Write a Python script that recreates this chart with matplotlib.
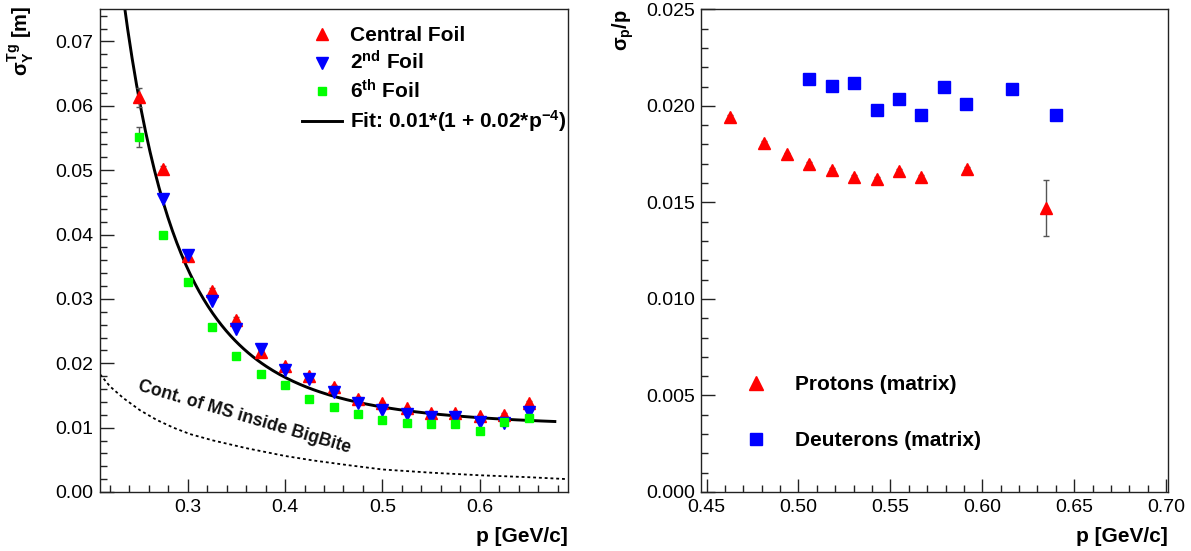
import numpy as np
import matplotlib
matplotlib.use("Agg")
import matplotlib.pyplot as plt
from matplotlib.lines import Line2D
from matplotlib.ticker import MultipleLocator, FormatStrFormatter

plt.rcParams['font.family'] = ['Liberation Sans', 'DejaVu Sans']
plt.rcParams['mathtext.fontset'] = 'custom'
plt.rcParams['mathtext.rm'] = 'Liberation Sans:bold'
plt.rcParams['mathtext.it'] = 'Liberation Sans:bold'
plt.rcParams['mathtext.bf'] = 'Liberation Sans:bold'

# ---------------- data: left panel ----------------
p_foil = [0.25, 0.275, 0.30, 0.325, 0.35, 0.375, 0.40, 0.425, 0.45, 0.475,
          0.50, 0.525, 0.55, 0.575, 0.60, 0.625, 0.65]
central = [0.0613, 0.0502, 0.0367, 0.0313, 0.0268, 0.0218, 0.0196, 0.0180, 0.0163,
           0.0145, 0.0138, 0.0130, 0.0122, 0.0122, 0.0118, 0.0120, 0.0139]
central_err = [0.0015, 0.0005, 0.0008, 0.0004, 0.0004, 0.0003, 0.0003, 0.0003, 0.0003,
               0.0002, 0.0002, 0.0002, 0.0002, 0.0002, 0.0002, 0.0002, 0.0002]
p_foil2 = [0.275, 0.30, 0.325, 0.35, 0.375, 0.40, 0.425, 0.45, 0.475,
           0.50, 0.525, 0.55, 0.575, 0.60, 0.625, 0.65]
foil2 = [0.0455, 0.0368, 0.0296, 0.0253, 0.0222, 0.0189, 0.0175, 0.0156, 0.0138,
         0.0127, 0.0121, 0.0117, 0.0116, 0.0109, 0.0107, 0.0124]
foil6 = [0.0552, 0.0399, 0.0327, 0.0256, 0.0212, 0.0184, 0.0166, 0.0144, 0.0132,
         0.0121, 0.0112, 0.0107, 0.0105, 0.0105, 0.0095, 0.0109, 0.0115]
foil6_err = [0.00155, 0.0004, 0.0003, 0.0003, 0.0002, 0.0002, 0.0002, 0.0002, 0.0002,
             0.0002, 0.0002, 0.0002, 0.0002, 0.0002, 0.0002, 0.0002, 0.0002]
fit_a, fit_b = 0.01, 0.02          # Fit: a*(1 + b*p^-4)
fit_range = (0.22, 0.677)
ms_p = [0.21, 0.2203, 0.2339, 0.2511, 0.2682, 0.2853, 0.3024, 0.3263, 0.3606,
        0.40, 0.429, 0.4633, 0.50, 0.55, 0.60, 0.65, 0.69]
ms_v = [0.0183, 0.0164, 0.0146, 0.0127, 0.0112, 0.0100, 0.0090, 0.0080, 0.0068,
        0.0056, 0.0049, 0.0042, 0.0035, 0.0030, 0.0026, 0.0023, 0.0020]

# ---------------- data: right panel ----------------
prot_p = [0.4629, 0.4814, 0.4939, 0.5060, 0.5183, 0.5304, 0.5427, 0.5548, 0.5669,
          0.5915, 0.6344]
prot_v = [0.01941, 0.01810, 0.01748, 0.01701, 0.01667, 0.01630, 0.01620, 0.01661,
          0.01630, 0.01672, 0.01472]
prot_err = [0.0001, 0.0001, 0.0001, 0.0001, 0.0001, 0.0001, 0.0001, 0.0001, 0.0001,
            0.0001, 0.00146]
deut_p = [0.5058, 0.5183, 0.5302, 0.5425, 0.5546, 0.5669, 0.5790, 0.5913, 0.6159, 0.6403]
deut_v = [0.02138, 0.02105, 0.02117, 0.01978, 0.02035, 0.01952, 0.02100, 0.02007,
          0.02087, 0.01952]

RED, BLUE, GREEN = '#ff0000', '#0000ff', '#00ff00'
ECOL = '#555555'

W, H = 1191, 551
fig = plt.figure(figsize=(W / 100, H / 100), dpi=100)

def fx(x):
    return x / W

def fy(y):
    return 1 - y / H

axL = fig.add_axes([fx(100), fy(492), 467.5 / W, (492 - 9.3) / H])
axR = fig.add_axes([fx(701), fy(492), 467.0 / W, (492 - 9.3) / H])

def style(ax, xmaj, xmin, ymaj, ymin, yfmt, xfmt):
    ax.xaxis.set_major_locator(MultipleLocator(xmaj))
    ax.xaxis.set_minor_locator(MultipleLocator(xmin))
    ax.yaxis.set_major_locator(MultipleLocator(ymaj))
    ax.yaxis.set_minor_locator(MultipleLocator(ymin))
    ax.yaxis.set_major_formatter(FormatStrFormatter(yfmt))
    ax.xaxis.set_major_formatter(FormatStrFormatter(xfmt))
    ax.tick_params(axis='both', which='both', direction='in', top=False, right=False,
                   labelsize=14, width=1.0, color='#222222')
    ax.tick_params(axis='y', which='major', length=10, pad=4.5)
    ax.tick_params(axis='y', which='minor', length=5)
    ax.tick_params(axis='x', which='major', length=9.4, pad=5)
    ax.tick_params(axis='x', which='minor', length=4.7)
    for s in ax.spines.values():
        s.set_linewidth(1.0)
        s.set_color('#222222')

# ---------------- left panel ----------------
axL.set_xlim(0.21, 0.69)
axL.set_ylim(0.0, 0.075)
style(axL, 0.1, 0.02, 0.01, 0.002, '%.2f', '%.1f')

pf = np.linspace(fit_range[0], fit_range[1], 200)
fit_line, = axL.plot(pf, fit_a * (1 + fit_b * pf ** -4), color='black', lw=2.1, zorder=2)
axL.plot(ms_p, ms_v, color='black', lw=1.3, ls=(0, (1.6, 1.6)), zorder=2)

h1 = axL.errorbar(p_foil, central, yerr=central_err, fmt='^', color=RED, ms=8,
                  mec=RED, ecolor=ECOL, elinewidth=1.0, capsize=2.2, zorder=3)
h2, = axL.plot(p_foil2, foil2, 'v', color=BLUE, ms=8, mec=BLUE, ls='none', zorder=4)
h3 = axL.errorbar(p_foil, foil6, yerr=foil6_err, fmt='s', color=GREEN, ms=6,
                  mec=GREEN, ecolor=ECOL, elinewidth=1.0, capsize=2.2, zorder=5)

axL.text(0.2477, 0.0158, 'Cont. of MS inside BigBite', rotation=-16.5,
         rotation_mode='anchor', ha='left', va='baseline', fontsize=12.7,
         fontweight='bold', color='#111111', zorder=6)

axL.legend([h1[0], h2, h3[0], fit_line],
           ['Central Foil', '2$^{\\mathrm{nd}}$ Foil', '6$^{\\mathrm{th}}$ Foil',
            'Fit: 0.01*(1 + 0.02*p$^{\\mathrm{-4}}$)'],
           loc='upper left', bbox_to_anchor=(fx(302), fy(26)),
           bbox_transform=fig.transFigure, frameon=False,
           prop={'size': 15, 'weight': 'bold'}, handlelength=1.9,
           handletextpad=0.4, labelspacing=0.27, borderpad=0, borderaxespad=0)

fig.text(fx(567.5), fy(536.7), 'p [GeV/c]', ha='right', va='center',
         fontsize=15, fontweight='bold')
fig.text(fx(21), fy(6), r'$\sigma_{\mathrm{Y}}^{\mathrm{Tg}}$ [m]', rotation=90,
         ha='center', va='top', fontsize=14.5, fontweight='bold')

# ---------------- right panel ----------------
axR.set_xlim(0.447, 0.701)
axR.set_ylim(0.0, 0.025)
style(axR, 0.05, 0.01, 0.005, 0.001, '%.3f', '%.2f')

axR.errorbar(prot_p, prot_v, yerr=prot_err, fmt='^', color=RED, ms=8, mec=RED,
             ecolor=ECOL, elinewidth=1.0, capsize=2.2, zorder=3)
axR.plot(deut_p, deut_v, 's', color=BLUE, ms=9, mec=BLUE, ls='none', zorder=3)

hp = Line2D([], [], marker='^', color=RED, ms=10.3, ls='none')
hd = Line2D([], [], marker='s', color=BLUE, ms=8.4, ls='none')
axR.legend([hp, hd], ['Protons (matrix)', 'Deuterons (matrix)'],
           loc='upper left', bbox_to_anchor=(fx(740), fy(375)),
           bbox_transform=fig.transFigure, frameon=False,
           prop={'size': 15, 'weight': 'bold'}, handlelength=1.5,
           handletextpad=1.15, labelspacing=1.78, borderpad=0, borderaxespad=0)

fig.text(fx(1168), fy(536.7), 'p [GeV/c]', ha='right', va='center',
         fontsize=15, fontweight='bold')
fig.text(fx(623.5), fy(9), r'$\sigma_{\mathrm{p}}$/p', rotation=90,
         ha='center', va='top', fontsize=14.5, fontweight='bold')

fig.savefig('out.png', dpi=100)
